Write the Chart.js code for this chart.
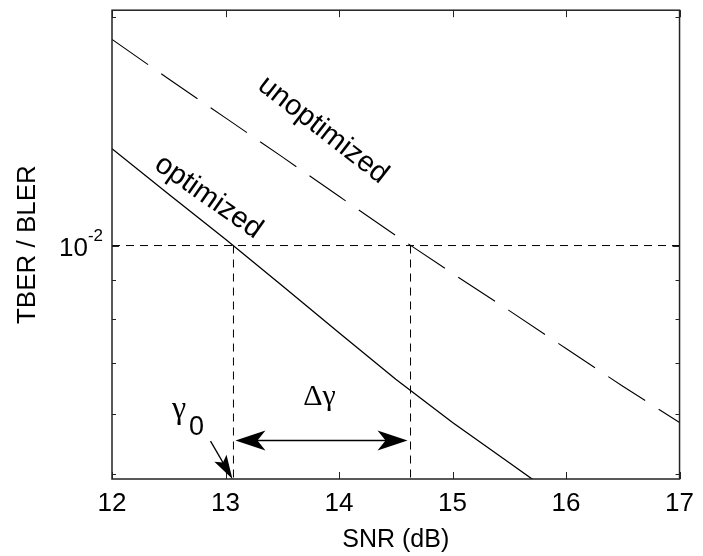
<!DOCTYPE html>
<html>
<head>
<meta charset="utf-8">
<script src="https://cdn.jsdelivr.net/npm/chart.js@4.4.1/dist/chart.umd.min.js"></script>
<style>
  html, body { margin: 0; padding: 0; background: #fff; }
  #wrap { width: 703px; height: 556px; position: relative; }
</style>
</head>
<body>
<div id="wrap"><canvas id="c"></canvas></div>
<script>
// Error rate versus SNR for the optimized and unoptimized receivers
const snrOptimized   = [12, 12.5, 13, 13.5, 14, 14.5, 15, 15.5, 16];
const berOptimized   = [0.01341, 0.01168, 0.01019, 0.00885, 0.00768, 0.00667, 0.00585, 0.00518, 0.00458];
const snrUnoptimized = [12, 12.5, 13, 13.5, 14, 14.5, 15, 15.5, 16, 16.5, 17];
const berUnoptimized = [0.01867, 0.01656, 0.01472, 0.01308, 0.01161, 0.01031, 0.00919, 0.00821, 0.00732, 0.00653, 0.00585];

// Target error rate and the SNRs where each curve reaches it
const targetBer = 0.01;
const gamma0 = 13.07;        // optimized curve at the target
const gammaUnopt = 14.63;    // unoptimized curve at the target

// Axis ranges and ticks
const xMin = 12, xMax = 17;
const yMin = 0.00493, yMax = 0.0204;
const xTickValues = [12, 13, 14, 15, 16, 17];
const yTickValues = [0.005, 0.006, 0.007, 0.008, 0.009, 0.01, 0.02];

const FONT = '"Liberation Sans", Arial, Helvetica, sans-serif';
const SERIF = '"Liberation Serif", "Times New Roman", serif';

const toPoints = (xs, ys) => xs.map((x, i) => ({ x, y: ys[i] }));

const arrowHead = (ctx, tipX, tipY, angle, len, halfW, notch) => {
  ctx.save();
  ctx.translate(tipX, tipY);
  ctx.rotate(angle);
  ctx.beginPath();
  ctx.moveTo(0, 0);
  ctx.lineTo(-len, -halfW);
  ctx.lineTo(-len + notch, 0);
  ctx.lineTo(-len, halfW);
  ctx.closePath();
  ctx.fill();
  ctx.restore();
};

const annotations = {
  id: 'annotations',
  afterDatasetsDraw(chart) {
    const { ctx, chartArea: a, scales: { x, y } } = chart;
    ctx.save();
    ctx.strokeStyle = '#222';
    ctx.fillStyle = '#000';

    // frame
    ctx.lineWidth = 1.5;
    ctx.strokeRect(a.left, a.top, a.right - a.left, a.bottom - a.top);

    // inward ticks on all four sides
    ctx.lineWidth = 1;
    ctx.beginPath();
    xTickValues.forEach(v => {
      const px = Math.round(x.getPixelForValue(v)) + 0.5;
      ctx.moveTo(px, a.bottom); ctx.lineTo(px, a.bottom - 7);
      ctx.moveTo(px, a.top); ctx.lineTo(px, a.top + 7);
    });
    yTickValues.forEach(v => {
      const py = Math.round(y.getPixelForValue(v)) + 0.5;
      const len = v === targetBer ? 7 : 4;
      ctx.moveTo(a.left, py); ctx.lineTo(a.left + len, py);
      ctx.moveTo(a.right, py); ctx.lineTo(a.right - len, py);
    });
    ctx.stroke();

    // y tick label 10^-2
    const yLab = y.getPixelForValue(targetBer);
    ctx.textBaseline = 'alphabetic';
    ctx.textAlign = 'right';
    ctx.font = '17px ' + FONT;
    ctx.fillText('-2', a.left - 9, yLab - 5);
    const supW = ctx.measureText('-2').width;
    ctx.font = '26px ' + FONT;
    ctx.fillText('10', a.left - 9 - supW, yLab + 10);

    // double arrow between the two SNRs
    const yArr = y.getPixelForValue(0.00554);
    const x0 = x.getPixelForValue(gamma0) + 2;
    const x1 = x.getPixelForValue(gammaUnopt) - 3;
    ctx.lineWidth = 1.3;
    ctx.strokeStyle = '#000';
    ctx.beginPath();
    ctx.moveTo(x0 + 20, yArr); ctx.lineTo(x1 - 20, yArr);
    ctx.stroke();
    arrowHead(ctx, x0, yArr, Math.PI, 30, 10, 8);
    arrowHead(ctx, x1, yArr, 0, 30, 10, 8);

    ctx.font = '30px ' + SERIF;
    ctx.textAlign = 'center';
    ctx.fillText('\u0394\u03b3', (x0 + x1) / 2 - 2, yArr - 35);

    // pointer to gamma0
    const tipX = x.getPixelForValue(gamma0) - 1;
    const tipY = a.bottom;
    const tailX = x.getPixelForValue(12.868);
    const tailY = y.getPixelForValue(0.00553);
    const ang = Math.atan2(tipY - tailY, tipX - tailX);
    ctx.beginPath();
    ctx.moveTo(tailX, tailY);
    ctx.lineTo(tipX - 18 * Math.cos(ang), tipY - 18 * Math.sin(ang));
    ctx.stroke();
    arrowHead(ctx, tipX, tipY, ang, 24, 7, 5);

    ctx.textAlign = 'left';
    ctx.font = '32px ' + SERIF;
    ctx.fillText('\u03b3', 172, 418);
    ctx.font = '27px ' + FONT;
    ctx.fillText('0', 189, 435);

    // curve labels
    const curveLabel = (text, cx, cy, deg) => {
      ctx.save();
      ctx.translate(cx, cy);
      ctx.rotate(deg * Math.PI / 180);
      ctx.font = '29px ' + FONT;
      ctx.textAlign = 'center';
      ctx.textBaseline = 'middle';
      ctx.fillText(text, 0, 0);
      ctx.restore();
    };
    curveLabel('optimized', x.getPixelForValue(12.85), y.getPixelForValue(0.01158), 35);
    curveLabel('unoptimized', x.getPixelForValue(13.86), y.getPixelForValue(0.01419), 38);

    ctx.restore();
  }
};

new Chart(document.getElementById('c'), {
  type: 'scatter',
  data: {
    datasets: [
      { label: 'optimized', data: toPoints(snrOptimized, berOptimized), showLine: true,
        borderColor: '#000', borderWidth: 1.3, pointRadius: 0 },
      { label: 'unoptimized', data: toPoints(snrUnoptimized, berUnoptimized), showLine: true,
        borderColor: '#000', borderWidth: 1.1, borderDash: [44, 16], pointRadius: 0 },
      { label: 'target', data: [{ x: xMin, y: targetBer }, { x: xMax, y: targetBer }], showLine: true,
        borderColor: '#000', borderWidth: 1, borderDash: [8, 6], pointRadius: 0 },
      { label: 'gamma0', data: [{ x: gamma0, y: targetBer }, { x: gamma0, y: yMin }], showLine: true,
        borderColor: '#000', borderWidth: 1, borderDash: [8, 6], pointRadius: 0 },
      { label: 'gammaUnopt', data: [{ x: gammaUnopt, y: targetBer }, { x: gammaUnopt, y: yMin }], showLine: true,
        borderColor: '#000', borderWidth: 1, borderDash: [8, 6], pointRadius: 0 }
    ]
  },
  options: {
    responsive: true,
    maintainAspectRatio: false,
    animation: false,
    layout: { padding: { left: 0, top: 6, right: 15, bottom: 0 } },
    plugins: { legend: { display: false }, tooltip: { enabled: false } },
    scales: {
      x: {
        type: 'linear', min: xMin, max: xMax,
        afterBuildTicks: s => { s.ticks = xTickValues.map(v => ({ value: v })); },
        afterFit: s => { s.height = 77; },
        grid: { display: false, drawTicks: false },
        border: { display: false },
        ticks: { color: '#000', font: { family: FONT, size: 26 }, padding: 9 },
        title: { display: true, text: 'SNR (dB)', color: '#000',
                 font: { family: FONT, size: 25 }, padding: { top: 0, bottom: 1 } }
      },
      y: {
        type: 'logarithmic', min: yMin, max: yMax,
        afterBuildTicks: s => { s.ticks = yTickValues.map(v => ({ value: v })); },
        afterFit: s => { s.width = 112; },
        grid: { display: false, drawTicks: false },
        border: { display: false },
        ticks: { callback: () => '' },
        title: { display: true, text: 'TBER / BLER', color: '#000',
                 font: { family: FONT, size: 26 }, padding: { top: 12, bottom: 0 } }
      }
    }
  },
  plugins: [annotations]
});
</script>
</body>
</html>
